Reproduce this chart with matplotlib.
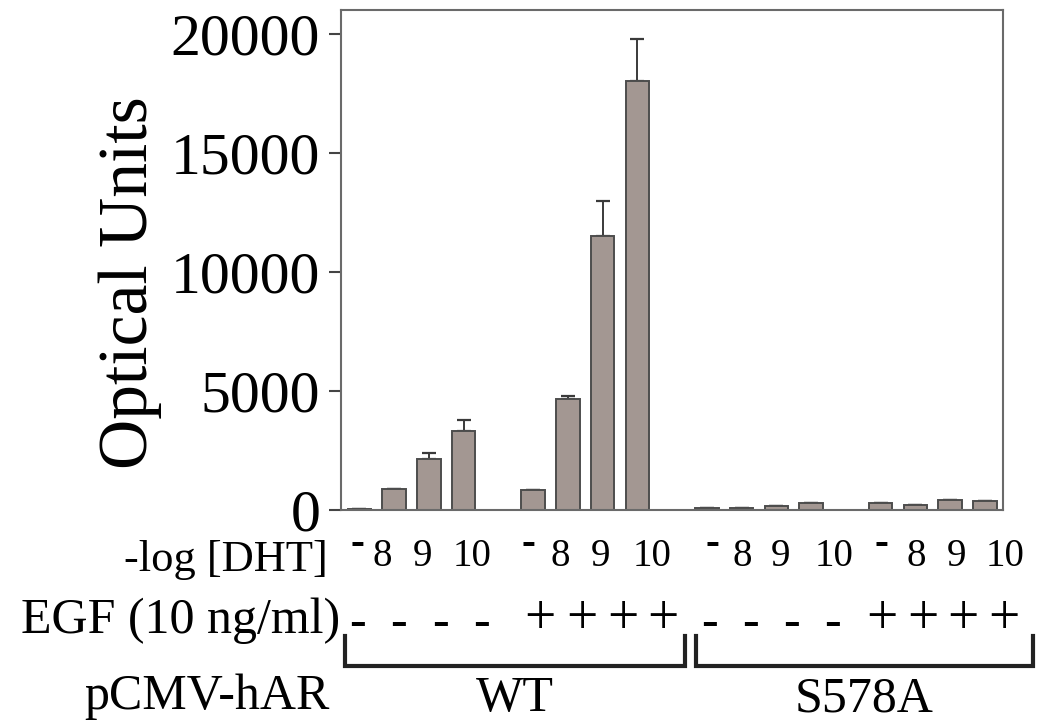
import numpy as np
import matplotlib
matplotlib.use("Agg")
import matplotlib.pyplot as plt
from matplotlib.lines import Line2D

plt.rcParams['font.family'] = ['Liberation Serif', 'DejaVu Serif']

# data
groups = ['WT', 'S578A']
dht_labels = ['-', '8', '9', '10']
egf_signs = ['-', '+']
wt_means = [60, 900, 2150, 3330, 820, 4680, 11500, 18000]
wt_err = [0, 0, 230, 450, 0, 90, 1470, 1800]
mut_means = [70, 70, 160, 300, 300, 230, 430, 380]
mut_err = [0, 0, 0, 0, 0, 0, 0, 0]

means = wt_means + mut_means
errs = wt_err + mut_err
# 4 bars per block, one empty slot between blocks
xpos = np.concatenate([np.arange(4) + 5 * b for b in range(4)])

W, H = 1041, 723
fig = plt.figure(figsize=(W / 100, H / 100), dpi=100)
ax = fig.add_axes([341 / W, 1 - 510 / H, 662 / W, 500 / H])

bar_col = '#a39792'
edge_col = '#4d4d4d'
ax.bar(xpos, means, width=0.68, color=bar_col, edgecolor=edge_col, linewidth=1.4, zorder=2)
ax.errorbar(xpos, means, yerr=[np.zeros(len(errs)), errs], fmt='none',
            ecolor='#3a3a3a', elinewidth=1.4, capsize=5, capthick=1.6, zorder=1)

ax.set_xlim(-0.53, 18.52)
ax.set_ylim(0, 21000)
ax.set_yticks([0, 5000, 10000, 15000, 20000])
ax.set_xticks([])
ax.tick_params(axis='y', direction='out', length=9, width=1.5, labelsize=43, pad=6, color='#444444')
for s in ax.spines.values():
    s.set_color('#6a6a6a')
    s.set_linewidth(1.5)
ax.set_ylabel('Optical Units', fontsize=50)
ax.yaxis.set_label_coords(-0.27, 0.455)


def fx(px):
    return px / W


def fy(py):
    return 1 - py / H


# row 1: -log [DHT]
fig.text(fx(328), fy(560), '-log [DHT]', fontsize=32, ha='right', va='center')
dht_px = [[357, 382, 423, 472], [528, 560, 601, 652], [712, 742, 781, 834], [881, 916, 957, 1005]]
for blk in dht_px:
    for lab, px in zip(dht_labels, blk):
        if lab == '-':
            fig.text(fx(px), fy(544), '-', fontsize=30, ha='center', va='center', fontweight='bold')
        else:
            fig.text(fx(px), fy(557), lab, fontsize=28, ha='center', va='center')

# row 2: EGF
fig.text(fx(340), fy(621), 'EGF (10 ng/ml)', fontsize=36, ha='right', va='center')
egf_px = [[357, 398, 440, 481], [540, 582, 623, 663], [709, 750, 791, 832], [882, 923, 963, 1004]]
for k, blk in enumerate(egf_px):
    sign = egf_signs[k % 2]
    for px in blk:
        if sign == '+':
            fig.text(fx(px), fy(620), sign, fontsize=40, ha='center', va='center')
        else:
            fig.text(fx(px), fy(624), sign, fontsize=36, ha='center', va='center')

# row 3: pCMV-hAR with brackets
fig.text(fx(330), fy(697), 'pCMV-hAR', fontsize=36, ha='right', va='center')
brackets = [(345, 685), (696, 1033)]
for (x0, x1), name in zip(brackets, groups):
    fig.add_artist(Line2D([fx(x0), fx(x0), fx(x1), fx(x1)], [fy(636), fy(666), fy(666), fy(636)],
                          color='#222222', linewidth=3, solid_joinstyle='miter'))
    fig.text(fx((x0 + x1) / 2), fy(699), name, fontsize=36, ha='center', va='center')

fig.savefig('out.png', dpi=100)
